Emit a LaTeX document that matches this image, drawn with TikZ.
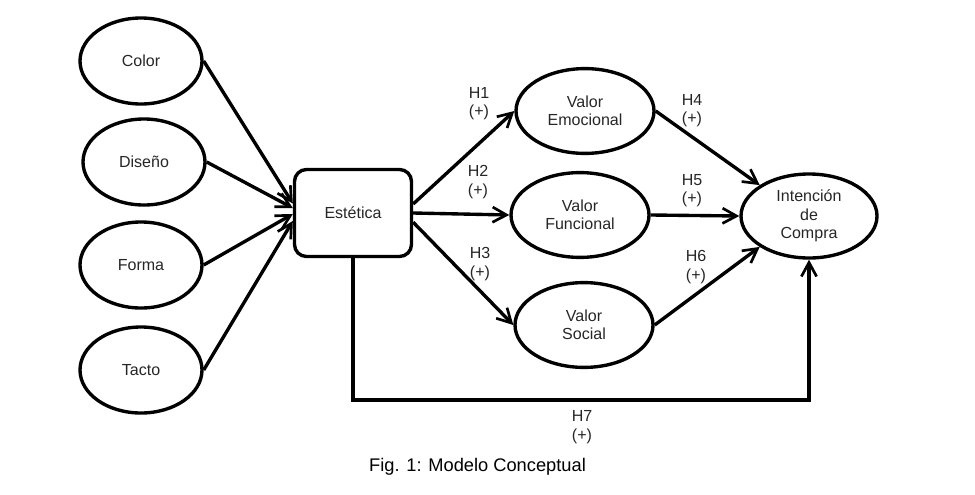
\documentclass[tikz,border=0pt]{standalone}
\usepackage{fontspec}
\setmainfont{Liberation Sans}
\usetikzlibrary{shapes.geometric,arrows.meta}

\begin{document}
\begin{tikzpicture}[scale=0.25]
\tikzstyle{every node}+=[inner sep=0pt, font=\fontsize{11.4}{13}\selectfont, text=black!85]
\tikzstyle{constructo}=[draw=black, line width=2.4pt, ellipse, align=center, minimum width=3.05cm, minimum height=2.15cm]
\tikzstyle{valor}=[constructo, minimum width=3.45cm, minimum height=2.12cm]
\tikzstyle{caja}=[draw=black, line width=2.4pt, rounded corners=0.3cm, minimum width=2.925cm, minimum height=2.175cm]
\tikzstyle{flecha}=[black, line width=2.4pt, -{Straight Barb[length=3.5mm, width=3.8mm, line width=1.9pt]}]
\tikzstyle{hipotesis}=[align=center]
\useasboundingbox (0,0) rectangle (97.5,-49.4);
\node [constructo] (color) at (14.1,-6.1) {Color};
\node [constructo] (diseno) at (14.4,-16.2) {Diseño};
\node [constructo] (forma) at (14.1,-26.5) {Forma};
\node [constructo] (tacto) at (14.1,-37.0) {Tacto};
\node [caja] (est) at (35.3,-21.3) {Estética};
\node [valor] (emo) at (58.5,-11.1) {Valor\\Emocional};
\node [valor] (fun) at (58.0,-21.5) {Valor\\Funcional};
\node [valor] (soc) at (58.4,-32.5) {Valor\\Social};
\node [valor, minimum width=3.4cm, minimum height=2.1cm] (int) at (80.9,-21.6) {Intención\\de\\Compra};
\draw [flecha] (color.east) -- ([yshift=9.5mm]est.west);
\draw [flecha] (diseno.east) -- ([yshift=5mm]est.west);
\draw [flecha] (forma.east) -- ([yshift=-1mm]est.west);
\draw [flecha] (tacto.east) -- ([yshift=-8mm]est.west);
\draw [flecha] ([yshift=9mm]est.east) -- (emo.west);
\draw [flecha] (est.east) -- (fun.west);
\draw [flecha] ([yshift=-9.25mm]est.east) -- (soc.west);
\draw [flecha] (emo.east) -- (int.north west);
\draw [flecha] (fun.east) -- (int.west);
\draw [flecha] (soc.east) -- (int.south west);
\coordinate (base) at (0,-40.0);
\draw [flecha] (est.south) |- (base -| int.south) -- (int.south);
\node [hipotesis] (h1) at (47.9,-10.4) {H1\\(+)};
\node [hipotesis] (h2) at (47.8,-18.2) {H2\\(+)};
\node [hipotesis] (h3) at (48.0,-26.4) {H3\\(+)};
\node [hipotesis] (h4) at (69.2,-11.05) {H4\\(+)};
\node [hipotesis] (h5) at (69.2,-19.1) {H5\\(+)};
\node [hipotesis] (h6) at (69.6,-26.7) {H6\\(+)};
\node [hipotesis] (h7) at (58.2,-42.7) {H7\\(+)};
\node [font=\fontsize{13}{15}\selectfont, text=black] (fig) at (47.75,-46.7) {Fig. 1: Modelo Conceptual};
\end{tikzpicture}
\end{document}
